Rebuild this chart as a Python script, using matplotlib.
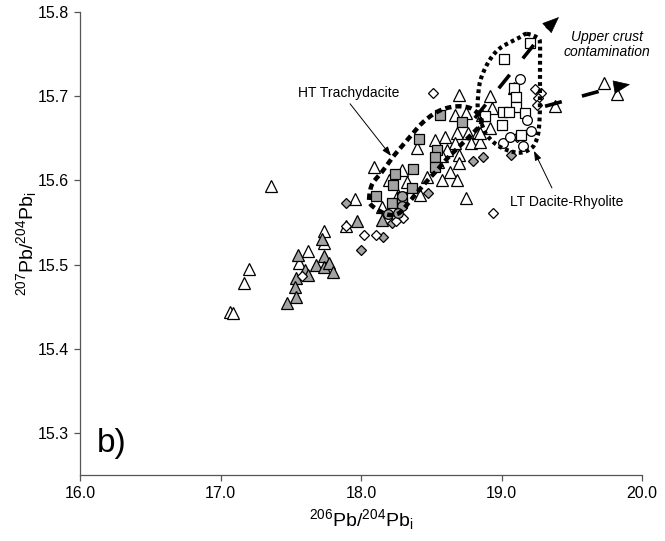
import numpy as np
import matplotlib
matplotlib.use("Agg")
import matplotlib.pyplot as plt

plt.rcParams["font.family"] = ["Liberation Sans", "DejaVu Sans"]
plt.rcParams["mathtext.fontset"] = "custom"
plt.rcParams["mathtext.rm"] = "Liberation Sans"
plt.rcParams["mathtext.it"] = "Liberation Sans:italic"

# ---------------- data: 206Pb/204Pb_i (x) and 207Pb/204Pb_i (y) ----------------
open_tri_x = [17.07, 17.09, 17.17, 17.20, 17.36, 17.62, 17.56, 17.74, 17.74, 17.96,
              17.89, 18.09, 18.29, 18.20, 18.40, 18.53, 18.60, 18.68, 18.76, 18.83,
              18.67, 18.75, 18.70, 18.63, 18.58, 18.68, 18.75, 18.47, 18.42, 18.70,
              18.78, 18.85, 18.67, 18.61, 18.55, 18.70, 18.92, 18.93, 18.86, 18.92,
              19.09, 19.38, 19.73, 19.82, 18.15, 18.33, 18.26, 18.58, 18.85]
open_tri_y = [15.444, 15.442, 15.478, 15.495, 15.593, 15.516, 15.502, 15.540, 15.526, 15.578,
              15.546, 15.616, 15.612, 15.600, 15.638, 15.648, 15.652, 15.656, 15.656, 15.657,
              15.678, 15.680, 15.701, 15.610, 15.600, 15.601, 15.579, 15.604, 15.583, 15.630,
              15.644, 15.646, 15.644, 15.636, 15.622, 15.621, 15.700, 15.686, 15.678, 15.662,
              15.710, 15.688, 15.716, 15.703, 15.568, 15.598, 15.583, 15.629, 15.656]

gray_tri_x = [17.97, 17.72, 17.55, 17.74, 17.68, 17.74, 17.77, 17.80, 17.60, 17.62,
              17.54, 17.53, 17.54, 17.47, 18.15]
gray_tri_y = [15.552, 15.530, 15.511, 15.510, 15.499, 15.497, 15.502, 15.491, 15.494, 15.488,
              15.484, 15.473, 15.461, 15.454, 15.553]

gray_sq_x = [18.24, 18.23, 18.11, 18.22, 18.56, 18.72, 18.41, 18.54, 18.53, 18.37,
             18.53, 18.36, 18.29, 18.29]
gray_sq_y = [15.608, 15.595, 15.581, 15.573, 15.678, 15.669, 15.649, 15.636, 15.628, 15.614,
             15.616, 15.591, 15.580, 15.573]

gray_circ_x = [18.29, 18.29, 18.26, 18.19]
gray_circ_y = [15.582, 15.570, 15.561, 15.560]

gray_dia_x = [17.89, 18.00, 18.22, 18.16, 18.80, 18.87, 18.48, 19.07]
gray_dia_y = [15.573, 15.517, 15.549, 15.533, 15.623, 15.628, 15.585, 15.630]

open_dia_x = [18.51, 17.89, 18.02, 18.11, 17.58, 18.94, 19.24, 19.28, 19.26, 19.25,
              19.11, 18.30, 18.25]
open_dia_y = [15.704, 15.546, 15.535, 15.535, 15.486, 15.561, 15.709, 15.704, 15.698, 15.690,
              15.652, 15.555, 15.552]

open_sq_x = [19.20, 19.02, 19.09, 19.10, 19.10, 19.01, 19.05, 19.17, 19.00, 19.14, 18.88]
open_sq_y = [15.763, 15.744, 15.710, 15.699, 15.687, 15.681, 15.681, 15.680, 15.666, 15.654, 15.677]

open_circ_x = [19.13, 19.01, 19.06, 19.15, 19.21, 19.18]
open_circ_y = [15.720, 15.644, 15.651, 15.641, 15.659, 15.672]

# field outlines
ht_env_x = [18.057, 18.078, 18.149, 18.228, 18.299, 18.370, 18.441, 18.527, 18.612, 18.705,
            18.790, 18.847, 18.854, 18.790, 18.705, 18.619, 18.541, 18.463, 18.391, 18.327,
            18.270, 18.199, 18.128, 18.071]
ht_env_y = [15.577, 15.595, 15.610, 15.628, 15.642, 15.656, 15.669, 15.680, 15.686, 15.688,
            15.685, 15.676, 15.667, 15.655, 15.641, 15.627, 15.612, 15.598, 15.584, 15.571,
            15.561, 15.559, 15.564, 15.571]

lt_env_x = [19.181, 19.260, 19.274, 19.274, 19.274, 19.274, 19.267, 19.253, 19.224, 19.167,
            19.110, 19.039, 18.968, 18.904, 18.868, 18.833, 18.833, 18.847, 18.883, 18.932,
            18.989, 19.060, 19.132]
lt_env_y = [15.774, 15.769, 15.761, 15.735, 15.711, 15.687, 15.663, 15.650, 15.640, 15.634,
            15.633, 15.636, 15.642, 15.652, 15.663, 15.684, 15.699, 15.717, 15.733, 15.747,
            15.757, 15.764, 15.770]

# contamination trends: start, head base, tip
trend_up = [(18.81, 15.674), (19.331, 15.782), (19.409, 15.794)]
trend_right = [(19.31, 15.688), (19.808, 15.711), (19.915, 15.714)]

x_ticks = [16.0, 17.0, 18.0, 19.0, 20.0]
y_ticks = [15.3, 15.4, 15.5, 15.6, 15.7, 15.8]


def closed_curve(xs, ys, n=24):
    """Periodic Catmull-Rom curve through the given vertices."""
    p = np.column_stack([xs, ys])
    m = len(p)
    t = np.linspace(0, 1, n, endpoint=False)[:, None]
    out = []
    for i in range(m):
        p0, p1, p2, p3 = p[(i - 1) % m], p[i], p[(i + 1) % m], p[(i + 2) % m]
        seg = 0.5 * (2 * p1 + (-p0 + p2) * t + (2 * p0 - 5 * p1 + 4 * p2 - p3) * t ** 2
                     + (-p0 + 3 * p1 - 3 * p2 + p3) * t ** 3)
        out.append(seg)
    out = np.vstack(out + [p[:1]])
    return out[:, 0], out[:, 1]


fig = plt.figure(figsize=(6.65, 5.41), dpi=100)
ax = fig.add_axes([80 / 665, 66 / 541, 562 / 665, 463 / 541])
ax.set_xlim(16, 20)
ax.set_ylim(15.25, 15.8)

for s in ("top", "right"):
    ax.spines[s].set_visible(False)
for s in ("left", "bottom"):
    ax.spines[s].set_color("#555555")
    ax.spines[s].set_linewidth(0.9)

ax.set_xticks(x_ticks)
ax.set_xticklabels([f"{v:.1f}" for v in x_ticks])
ax.set_yticks(y_ticks)
ax.set_yticklabels([f"{v:.1f}" for v in y_ticks])
ax.tick_params(direction="out", length=4, width=0.9, color="#555555",
               labelsize=11.5, pad=4)

ax.set_xlabel(r"$^{206}$Pb/$^{204}$Pb$_{\mathrm{i}}$", fontsize=14, labelpad=4)
ax.set_ylabel(r"$^{207}$Pb/$^{204}$Pb$_{\mathrm{i}}$", fontsize=14, labelpad=-1)

gray = "#a3a3a3"
ew = 0.9
common = dict(linestyle="none", markeredgecolor="black", markeredgewidth=ew)
ax.plot(open_tri_x, open_tri_y, "^", ms=8.5, markerfacecolor="white", zorder=3, **common)
ax.plot(gray_tri_x, gray_tri_y, "^", ms=8.5, markerfacecolor=gray, zorder=3, **common)
ax.plot(gray_dia_x, gray_dia_y, "D", ms=5.6, markerfacecolor=gray, zorder=4, **common)
ax.plot(open_dia_x, open_dia_y, "D", ms=5.6, markerfacecolor="white", zorder=4, **common)
ax.plot(gray_sq_x, gray_sq_y, "s", ms=7.5, markerfacecolor=gray, zorder=4, **common)
ax.plot(gray_circ_x, gray_circ_y, "o", ms=7, markerfacecolor=gray, zorder=4, **common)
ax.plot(open_sq_x, open_sq_y, "s", ms=7.5, markerfacecolor="white", zorder=4, **common)
ax.plot(open_circ_x, open_circ_y, "o", ms=7, markerfacecolor="white", zorder=4, **common)

# field outlines
hx, hy = closed_curve(ht_env_x, ht_env_y)
ax.plot(hx, hy, color="black", lw=3.2, linestyle=(0, (1.4, 0.9)),
        solid_capstyle="butt", dash_capstyle="butt", zorder=6)
lx, ly = closed_curve(lt_env_x, lt_env_y)
ax.plot(lx, ly, color="black", lw=3.0, linestyle=(0, (0.9, 0.8)),
        dash_capstyle="butt", zorder=6)

# contamination trends
for start, base, tip in (trend_up, trend_right):
    ax.plot([start[0], base[0]], [start[1], base[1]], color="black", lw=2.6,
            linestyle=(0, (4.8, 5.8)), dash_capstyle="butt", zorder=7)
    ax.annotate("", xy=tip, xytext=base,
                arrowprops=dict(arrowstyle="-|>,head_length=1.1,head_width=0.45",
                                mutation_scale=10, color="black", lw=0.5,
                                shrinkA=0, shrinkB=0), zorder=7)

# labels with pointers
ax.text(17.915, 15.704, "HT Trachydacite", fontsize=10, ha="center", va="center")
ax.annotate("", xy=(18.214, 15.629), xytext=(17.922, 15.691),
            arrowprops=dict(arrowstyle="-|>,head_length=0.7,head_width=0.25",
                            mutation_scale=8, color="black", lw=0.7,
                            shrinkA=0, shrinkB=0))
ax.text(19.466, 15.574, "LT Dacite-Rhyolite", fontsize=10, ha="center", va="center")
ax.annotate("", xy=(19.231, 15.635), xytext=(19.359, 15.591),
            arrowprops=dict(arrowstyle="-|>,head_length=0.7,head_width=0.25",
                            mutation_scale=8, color="black", lw=0.7,
                            shrinkA=0, shrinkB=0))
ax.text(19.751, 15.7615, "Upper crust\ncontamination", fontsize=10, style="italic",
        ha="center", va="center", linespacing=1.05)

ax.text(0.030, 0.050, "b)", transform=ax.transAxes, fontsize=24,
        ha="left", va="baseline")

fig.savefig("out.png", dpi=100)
